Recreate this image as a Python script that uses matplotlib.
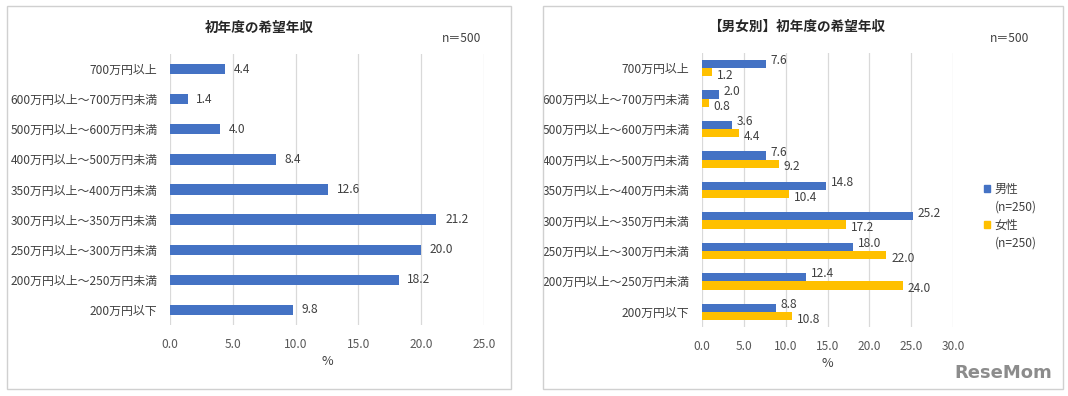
import numpy as np
import matplotlib.pyplot as plt
from matplotlib.patches import Rectangle, Patch

# ============================================================
# Data
# ============================================================

categories = [
    "700万円以上",
    "600万円以上～700万円未満",
    "500万円以上～600万円未満",
    "400万円以上～500万円未満",
    "350万円以上～400万円未満",
    "300万円以上～350万円未満",
    "250万円以上～300万円未満",
    "200万円以上～250万円未満",
    "200万円以下",
]

total = [4.4, 1.4, 4.0, 8.4, 12.6, 21.2, 20.0, 18.2, 9.8]
male = [7.6, 2.0, 3.6, 7.6, 14.8, 25.2, 18.0, 12.4, 8.8]
female = [1.2, 0.8, 4.4, 9.2, 10.4, 17.2, 22.0, 24.0, 10.8]

left_ticks = [0, 5, 10, 15, 20, 25]
right_ticks = [0, 5, 10, 15, 20, 25, 30]

# ============================================================
# Style
# ============================================================

plt.rcParams["font.family"] = ["Noto Sans CJK JP", "DejaVu Sans"]
fs = 8.6

blue = "#4472C4"
yellow = "#FFC000"
text_gray = "#404040"
tick_gray = "#595959"
grid_gray = "#D9D9D9"

W, H = 1068, 396
fig = plt.figure(figsize=(W / 100, H / 100), dpi=100)
fig.patch.set_facecolor("white")


def px_box(x0, y0, x1, y1):
    # pixel box (top-left origin) -> figure fraction [l, b, w, h]
    return [x0 / W, 1 - y1 / H, (x1 - x0) / W, (y1 - y0) / H]


# panel frames
for x0, x1 in [(7, 511), (543, 1063)]:
    l, b, w, h = px_box(x0, 6, x1, 389)
    fig.patches.append(Rectangle((l, b), w, h, transform=fig.transFigure,
                                 fill=False, edgecolor="#D0D0D0", linewidth=1.0))


def style_axis(ax, ticks):
    ax.set_xlim(ticks[0], ticks[-1])
    ax.set_xticks(ticks)
    ax.set_xticklabels([f"{t:.1f}" for t in ticks], color=tick_gray, fontsize=fs)
    ax.set_ylim(len(categories) - 0.5, -0.5)
    ax.set_yticks(np.arange(len(categories)))
    ax.set_yticklabels(categories, color=text_gray, fontsize=fs)
    ax.tick_params(axis="both", length=0)
    ax.tick_params(axis="x", pad=9)
    ax.tick_params(axis="y", pad=9)
    for s in ax.spines.values():
        s.set_visible(False)
    ax.grid(axis="x", color=grid_gray, linewidth=0.9)
    ax.set_axisbelow(True)
    ax.set_xlabel("%", color=text_gray, fontsize=fs + 0.5, labelpad=3)


# ============================================================
# Left: total
# ============================================================

ax1 = fig.add_axes(px_box(170, 54, 484, 325))
style_axis(ax1, left_ticks)
y = np.arange(len(categories))
ax1.barh(y, total, height=0.34, color=blue)
for yi, v in zip(y, total):
    ax1.text(v + 0.7, yi, f"{v:.1f}", va="center", ha="left", color=text_gray, fontsize=fs)

fig.text(259 / W, 1 - 28 / H, "初年度の希望年収", ha="center", va="center",
         fontsize=9.8, fontweight="bold", color="#262626")
fig.text(462 / W, 1 - 38 / H, "n＝500", ha="center", va="center", fontsize=fs, color=text_gray)

# ============================================================
# Right: by gender
# ============================================================

ax2 = fig.add_axes(px_box(702, 53, 953, 327))
style_axis(ax2, right_ticks)
bh = 0.27
ax2.barh(y - bh / 2, male, height=bh, color=blue)
ax2.barh(y + bh / 2, female, height=bh, color=yellow)
for yi, v in zip(y, male):
    ax2.text(v + 0.6, yi - bh * 0.9, f"{v:.1f}", va="center", ha="left", color=text_gray, fontsize=fs)
for yi, v in zip(y, female):
    ax2.text(v + 0.6, yi + bh * 0.9, f"{v:.1f}", va="center", ha="left", color=text_gray, fontsize=fs)

blank = Patch(facecolor="none", edgecolor="none")
handles = [Patch(color=blue), blank, Patch(color=yellow), blank]
labels = ["男性", "(n=250)", "女性", "(n=250)"]
leg = ax2.legend(handles, labels, loc="center left", bbox_to_anchor=(1.08, 0.405), frameon=False,
                 handlelength=0.55, handleheight=0.55, handletextpad=0.35,
                 labelspacing=0.4, fontsize=fs, labelcolor=text_gray)

fig.text(797 / W, 1 - 27 / H, "【男女別】初年度の希望年収", ha="center", va="center",
         fontsize=9.8, fontweight="bold", color="#262626")
fig.text(1010 / W, 1 - 38 / H, "n＝500", ha="center", va="center", fontsize=fs, color=text_gray)

fig.text(1003 / W, 1 - 373 / H, "ReseMom", ha="center", va="center",
         fontsize=13, fontweight="bold", color="#8C8C8C", family="DejaVu Sans")

fig.savefig("out.png", dpi=100)
